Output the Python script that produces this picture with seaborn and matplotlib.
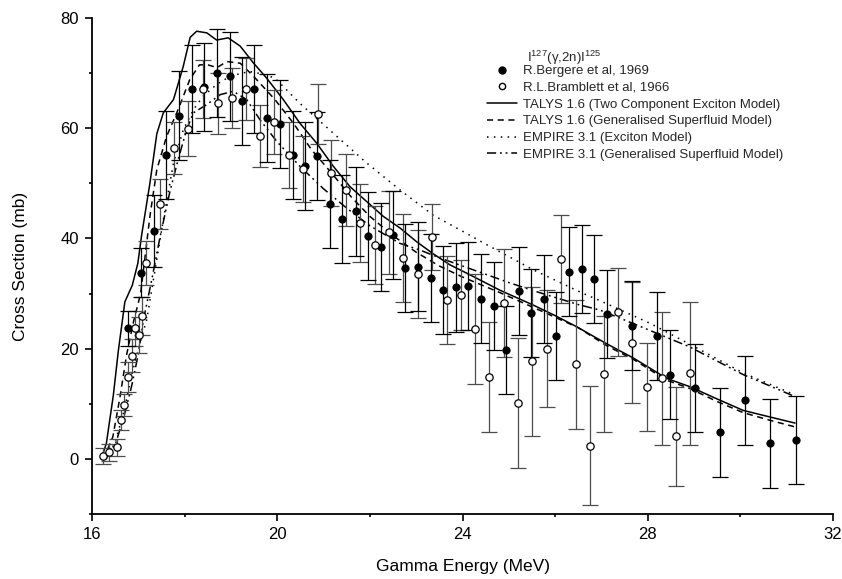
import numpy as np
import pandas as pd
import matplotlib
matplotlib.use("Agg")
import matplotlib.pyplot as plt
import seaborn as sns
from matplotlib.lines import Line2D

# Bergere et al 1969 (filled circles)
energy_bergere = [16.78, 17.06, 17.33, 17.60, 17.88, 18.15, 18.42, 18.69, 18.97, 19.23,
                  19.50, 19.77, 20.05, 20.33, 20.60, 20.86, 21.13, 21.40, 21.69, 21.95,
                  22.23, 22.49, 22.76, 23.03, 23.31, 23.57, 23.85, 24.12, 24.39, 24.67,
                  24.94, 25.21, 25.48, 25.76, 26.02, 26.30, 26.57, 26.84, 27.11, 27.65,
                  28.19, 28.47, 29.02, 29.55, 30.10, 30.64, 31.20]
xs_bergere = [23.7, 33.8, 41.3, 55.2, 62.3, 67.1, 67.5, 70.0, 69.4, 64.9,
              67.1, 61.9, 60.8, 55.2, 53.1, 55.0, 46.2, 43.6, 44.9, 40.5,
              38.5, 40.6, 34.6, 34.9, 32.8, 30.6, 31.1, 31.4, 29.1, 27.8,
              19.7, 30.5, 26.4, 29.0, 22.3, 34.0, 34.4, 32.7, 26.3, 24.2,
              22.3, 15.3, 12.9, 4.8, 10.6, 2.8, 3.5]
err_bergere = [3.2, 4.5, 6.5, 8.0, 8.0, 8.0, 8.0, 8.0, 8.0, 8.0,
               8.0, 8.0, 8.0, 8.0, 8.0, 8.0, 8.0, 8.0, 8.0, 8.0,
               8.0, 8.0, 8.0, 8.0, 8.0, 8.0, 8.0, 8.0, 8.0, 8.0,
               8.0, 8.0, 8.0, 8.0, 8.0, 8.0, 8.0, 8.0, 8.0, 8.0,
               8.0, 8.0, 8.0, 8.0, 8.0, 8.0, 8.0]

# Bramblett et al 1966 (open circles)
energy_bramblett = [16.23, 16.37, 16.53, 16.62, 16.70, 16.77, 16.86, 16.93, 17.01, 17.07,
                    17.17, 17.46, 17.78, 18.08, 18.40, 18.71, 19.02, 19.33, 19.62, 19.94,
                    20.25, 20.56, 20.87, 21.17, 21.49, 21.79, 22.10, 22.41, 22.72, 23.03,
                    23.34, 23.66, 23.96, 24.28, 24.58, 24.89, 25.20, 25.50, 25.82, 26.12,
                    26.44, 26.75, 27.05, 27.36, 27.67, 27.99, 28.30, 28.61, 28.91]
xs_bramblett = [0.5, 1.2, 2.1, 7.0, 9.7, 14.9, 18.7, 23.7, 22.5, 25.9,
                35.6, 46.3, 56.4, 59.9, 67.1, 64.5, 65.5, 67.1, 58.6, 61.1,
                55.1, 52.6, 62.6, 51.9, 48.8, 42.8, 38.8, 41.1, 36.4, 33.5,
                40.2, 28.8, 29.7, 23.5, 14.8, 28.3, 10.2, 17.7, 20.0, 36.3,
                17.2, 2.4, 15.4, 26.6, 21.1, 13.1, 14.6, 4.1, 15.5]
err_bramblett = [1.5, 1.5, 1.5, 1.8, 2.0, 2.7, 3.0, 3.2, 3.3, 3.5,
                 4.0, 4.5, 4.7, 5.0, 5.3, 5.5, 5.5, 5.6, 5.6, 5.8,
                 6.0, 6.0, 5.5, 6.0, 6.5, 7.0, 7.0, 7.5, 8.0, 8.0,
                 6.0, 8.0, 6.4, 10.0, 10.0, 9.8, 11.8, 13.5, 10.6, 8.0,
                 11.7, 10.8, 10.6, 8.0, 11.0, 8.0, 12.0, 9.0, 13.0]

# TALYS 1.6 two component exciton model
talys_tce_e = [16.20, 16.31, 16.46, 16.57, 16.71, 16.87, 16.99, 17.07, 17.25, 17.40,
               17.54, 17.76, 17.97, 18.12, 18.26, 18.48, 18.69, 18.94, 19.20, 19.48,
               19.77, 20.13, 20.49, 20.85, 21.21, 21.57, 21.93, 22.29, 22.65, 23.01,
               23.37, 23.73, 24.09, 24.81, 25.53, 26.00, 26.46, 27.11, 27.69, 28.41,
               28.91, 29.49, 30.06, 30.64, 31.18]
talys_tce_xs = [0.0, 2.8, 11.5, 19.7, 28.5, 31.5, 35.5, 40.5, 50.0, 59.0,
                62.8, 65.2, 71.2, 76.5, 77.6, 77.3, 76.0, 76.4, 74.9, 71.9,
                69.1, 65.2, 60.9, 57.3, 53.1, 49.4, 46.7, 44.0, 41.9, 39.4,
                37.2, 35.2, 33.7, 30.6, 27.9, 26.0, 24.0, 20.9, 18.3, 14.6,
                13.1, 10.9, 8.8, 7.6, 6.5]

# TALYS 1.6 generalised superfluid model
talys_gsm_e = [16.25, 16.45, 16.60, 16.75, 16.90, 17.05, 17.25, 17.40, 17.61, 17.86,
               18.11, 18.32, 18.50, 18.70, 18.91, 19.20, 19.48, 19.95, 20.35, 20.74,
               21.21, 21.60, 22.00, 22.50, 23.00, 23.50, 24.00, 24.80, 25.50, 26.50,
               27.10, 27.70, 28.40, 28.90, 29.50, 30.06, 30.64, 31.18]
talys_gsm_xs = [0.0, 4.0, 11.0, 19.0, 25.0, 30.0, 44.0, 52.5, 58.5, 63.4,
                68.8, 71.5, 71.5, 71.0, 72.1, 71.8, 69.5, 65.2, 60.9, 56.1,
                51.5, 47.5, 44.0, 40.5, 37.5, 35.0, 33.0, 30.2, 27.6, 23.8,
                20.6, 18.0, 14.3, 12.8, 10.4, 8.4, 7.0, 5.8]

# EMPIRE 3.1 exciton model
empire_ex_e = [16.30, 16.50, 16.70, 16.85, 17.00, 17.18, 17.35, 17.54, 17.76, 17.97,
               18.20, 18.40, 18.70, 19.00, 19.40, 19.70, 19.95, 20.49, 21.21, 21.93,
               22.65, 23.37, 24.09, 24.45, 25.53, 26.61, 26.97, 28.05, 28.91, 30.06,
               31.18]
empire_ex_xs = [0.0, 3.0, 9.0, 15.0, 20.0, 25.2, 33.7, 43.4, 53.7, 59.7,
                63.5, 65.8, 68.0, 69.5, 70.3, 69.8, 69.1, 64.5, 59.1, 53.7,
                48.8, 44.2, 40.9, 39.2, 34.3, 30.0, 28.7, 24.6, 20.8, 15.6,
                11.6]

# EMPIRE 3.1 generalised superfluid model
empire_gsm_e = [16.30, 16.50, 16.70, 16.85, 17.00, 17.11, 17.29, 17.47, 17.69, 17.86,
                18.04, 18.19, 18.48, 18.77, 19.05, 19.34, 19.63, 20.00, 20.50, 21.00,
                21.50, 22.00, 22.65, 23.08, 23.50, 24.00, 24.50, 25.00, 25.50, 26.00,
                26.50, 26.97, 27.50, 28.05, 28.91, 30.06, 31.18]
empire_gsm_xs = [0.0, 2.5, 8.0, 13.0, 19.0, 25.2, 32.5, 40.3, 48.8, 54.3,
                 59.7, 62.8, 64.3, 66.1, 66.7, 65.2, 61.5, 57.5, 53.0, 49.0,
                 45.5, 42.3, 39.1, 37.9, 36.5, 35.0, 33.5, 32.0, 30.6, 29.3,
                 28.0, 27.0, 25.2, 23.3, 20.3, 15.3, 11.3]

legend_labels = ["R.Bergere et al, 1969", "R.L.Bramblett et al, 1966",
                 "TALYS 1.6 (Two Component Exciton Model)",
                 "TALYS 1.6 (Generalised Superfluid Model)",
                 "EMPIRE 3.1 (Exciton Model)",
                 "EMPIRE 3.1 (Generalised Superfluid Model)"]

sns.set_style("ticks")
plt.rcParams['font.family'] = ['Liberation Sans', 'DejaVu Sans']
plt.rcParams['mathtext.fontset'] = 'custom'
plt.rcParams['mathtext.rm'] = 'Liberation Sans'
plt.rcParams['mathtext.it'] = 'Liberation Sans:italic'

fig = plt.figure(figsize=(8.42, 5.79), dpi=100)
ax = fig.add_axes([92 / 842, 1 - 514 / 579, (833 - 92) / 842, (514 - 18) / 579])

dash_gsm = (0, (4, 3))
dot_ex = (0, (1, 3.5))
dashdot_gsm = (0, (6, 2.5, 1.2, 2.5, 1.2, 2.5))
styles = [
    (talys_tce_e, talys_tce_xs, '-'),
    (talys_gsm_e, talys_gsm_xs, dash_gsm),
    (empire_ex_e, empire_ex_xs, dot_ex),
    (empire_gsm_e, empire_gsm_xs, dashdot_gsm),
]
for e, xs, ls in styles:
    df = pd.DataFrame({"E": e, "xs": xs})
    sns.lineplot(data=df, x="E", y="xs", ax=ax, color="black", lw=1.1,
                 linestyle=ls, sort=False, estimator=None)

# error bars
ax.errorbar(energy_bramblett, xs_bramblett, yerr=err_bramblett, fmt='none',
            ecolor='0.3', elinewidth=0.9, capsize=5.5, capthick=0.9, zorder=3)
ax.errorbar(energy_bergere, xs_bergere, yerr=err_bergere, fmt='none',
            ecolor='black', elinewidth=0.9, capsize=5.5, capthick=0.9, zorder=3)

sns.scatterplot(x=energy_bergere, y=xs_bergere, ax=ax, color='black', s=28,
                edgecolor='black', linewidth=0.6, zorder=5)
sns.scatterplot(x=energy_bramblett, y=xs_bramblett, ax=ax, color='white', s=28,
                edgecolor='black', linewidth=0.9, zorder=5)

ax.set_xlim(16, 32)
ax.set_ylim(-10, 80)
ax.set_xticks([16, 20, 24, 28, 32])
ax.set_xticks([18, 22, 26, 30], minor=True)
ax.set_yticks([0, 20, 40, 60, 80])
ax.set_yticks([-10, 10, 30, 50, 70], minor=True)
ax.tick_params(which='major', length=5, width=1.2, labelsize=12, direction='out',
               color='black', labelcolor='black')
ax.tick_params(axis='y', which='major', pad=4.5)
ax.tick_params(axis='x', which='major', pad=4.5)
ax.tick_params(which='minor', length=2.5, width=1.2, direction='out', color='black')
for s in ['left', 'bottom']:
    ax.spines[s].set_linewidth(1.3)
    ax.spines[s].set_color('black')
sns.despine(ax=ax)

ax.set_xlabel("Gamma Energy (MeV)", fontsize=12.5, color='black')
ax.set_ylabel("Cross Section (mb)", fontsize=12.5, color='black')
ax.xaxis.set_label_coords(0.5, (514 - 567) / 496)
ax.xaxis.label.set_verticalalignment('center')
ax.yaxis.set_label_coords((21 - 92) / 741, 0.5)
ax.yaxis.label.set_verticalalignment('center')

handles = [
    Line2D([], [], ls='none', marker='o', mfc='black', mec='black', ms=5),
    Line2D([], [], ls='none', marker='o', mfc='white', mec='black', ms=4.5),
    Line2D([], [], color='black', lw=1.1, ls='-'),
    Line2D([], [], color='black', lw=1.1, ls=dash_gsm),
    Line2D([], [], color='black', lw=1.1, ls=dot_ex),
    Line2D([], [], color='black', lw=1.1, ls=dashdot_gsm),
]
fig.legend(handles, legend_labels, loc='upper left',
           bbox_to_anchor=(487 / 842, 1 - 65 / 579), frameon=False,
           fontsize=9.5, handlelength=2.3, handletextpad=0.4,
           labelspacing=0.34, borderpad=0, borderaxespad=0)
fig.text(527 / 842, 1 - 57.5 / 579, r'I$^{127}$(γ,2n)I$^{125}$',
         fontsize=9.5, va='center', ha='left')

fig.savefig("out.png", dpi=100)
